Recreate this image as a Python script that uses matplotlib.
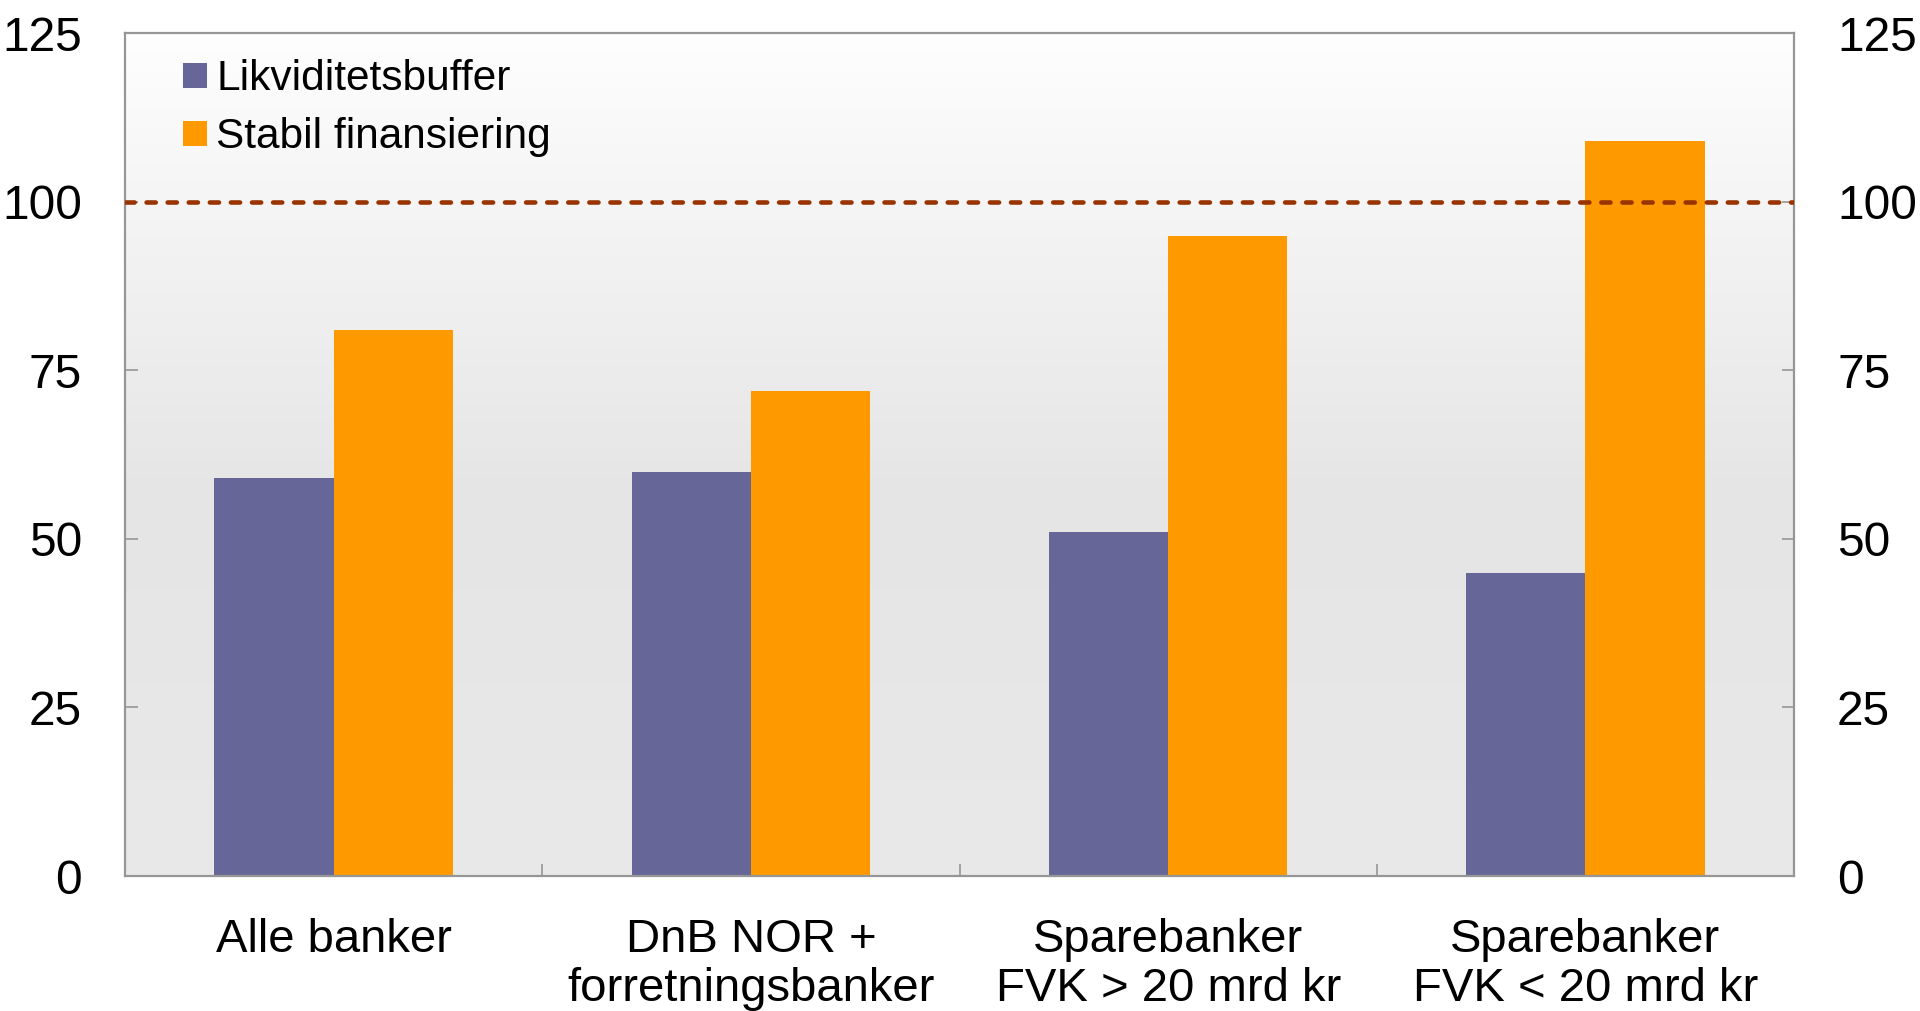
import matplotlib
matplotlib.use("Agg")
import matplotlib.pyplot as plt
import numpy as np
from matplotlib.colors import LinearSegmentedColormap

plt.rcParams['font.family'] = ['Liberation Sans', 'DejaVu Sans']

categories = ['Alle banker', 'DnB NOR +\nforretningsbanker',
              'Sparebanker\nFVK > 20 mrd kr', 'Sparebanker\nFVK < 20 mrd kr']
likviditet = [59, 60, 51, 45]
stabil = [81, 72, 95, 109]
series_names = ['Likviditetsbuffer', 'Stabil finansiering']
yticks = [0, 25, 50, 75, 100, 125]
limit = 100

fig = plt.figure(figsize=(19.2, 10.11), dpi=100)
ax = fig.add_axes([0.0651, 0.1335, 0.8693, 0.8335])

# background gradient, white at top to light grey
bg = LinearSegmentedColormap.from_list(
    'bg', [(0.0, '#e9e9e9'), (0.45, '#e5e5e5'), (1.0, '#fefefe')])
grad = np.linspace(0, 1, 256).reshape(-1, 1)
ax.imshow(grad, aspect='auto', cmap=bg, origin='lower',
          extent=(-0.5, 3.5, 0, 125), zorder=0)

x = np.arange(len(categories))
w = 0.286
ax.bar(x - w / 2, likviditet, w, color='#666699', label=series_names[0], zorder=2)
ax.bar(x + w / 2, stabil, w, color='#ff9900', label=series_names[1], zorder=2)

ax.axhline(limit, color='#993300', lw=3.3, ls=(0, (2.0, 2.6)),
           dash_capstyle='round', zorder=3)

ax.set_xlim(-0.5, 3.5)
ax.set_ylim(0, 125)

ax.set_xticks(x)
ax.set_xticklabels(categories, fontsize=34, linespacing=1.15)
ax.set_xticks(np.arange(0.5, 3.5, 1), minor=True)
ax.tick_params(axis='x', which='major', length=0, pad=30)
ax.tick_params(axis='x', which='minor', direction='in', length=9,
               width=1.2, color='#969696')

ax.set_yticks(yticks)
ax.tick_params(axis='y', which='major', direction='in', length=9, width=1.2,
               color='#969696', labelsize=34.5, pad=31,
               left=True, right=True, labelleft=True, labelright=True)

for s in ax.spines.values():
    s.set_color('#969696')
    s.set_linewidth(1.6)

ax.legend(loc='upper left', frameon=False, fontsize=30.5,
          handlelength=0.55, handleheight=0.55, handletextpad=0.22,
          labelspacing=0.42, borderaxespad=0, borderpad=0,
          bbox_to_anchor=(0.035, 0.969))

fig.savefig('out.png', dpi=100)
